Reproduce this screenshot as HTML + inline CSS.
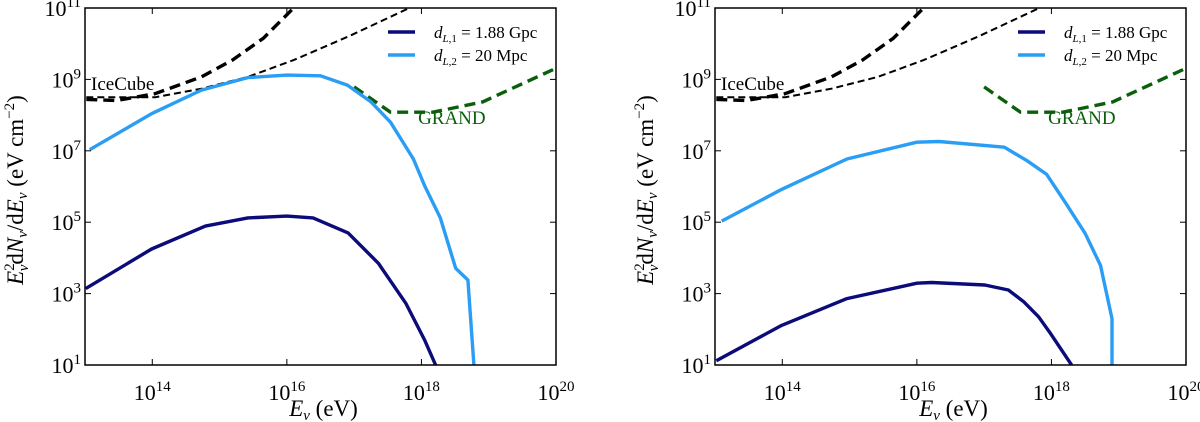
<!DOCTYPE html>
<html><head><meta charset="utf-8"><style>
body{margin:0;background:#fff}
svg{display:block}
text{font-family:"Liberation Serif",serif;fill:#000}
</style></head><body>
<svg id="fig" width="1200" height="422" xmlns="http://www.w3.org/2000/svg"></svg>
<script>
// log10 of energy (eV) and log10 of flux
const xTicks = [14, 16, 18, 20];
const yTicks = [1, 3, 5, 7, 9, 11];
const iceThickX = [13.02, 13.47, 14.04, 14.73, 15.19, 15.65, 16.1];
const iceThickY = [8.44, 8.41, 8.6, 9.07, 9.54, 10.15, 11];
const iceThinX = [13.02, 14.04, 14.73, 15.42, 16.1, 16.91, 17.82];
const iceThinY = [8.5, 8.5, 8.74, 9.07, 9.54, 10.2, 11];
const grandX = [17.0, 17.54, 18.17, 18.91, 20.0];
const grandY = [8.79, 8.08, 8.08, 8.37, 9.31];
const leftLightX = [13.07, 13.99, 14.73, 15.42, 16.0, 16.5, 16.9, 17.25, 17.54, 17.88, 18.05, 18.28, 18.51, 18.69, 18.78];
const leftLightY = [7.03, 8.04, 8.7, 9.05, 9.12, 9.1, 8.84, 8.37, 7.8, 6.77, 6.01, 5.12, 3.71, 3.38, 1];
const leftDarkX = [13.01, 13.99, 14.79, 15.42, 16.0, 16.39, 16.91, 17.36, 17.77, 18.05, 18.21];
const leftDarkY = [3.14, 4.25, 4.89, 5.12, 5.17, 5.12, 4.7, 3.85, 2.72, 1.69, 1];
const rightLightX = [13.1, 13.99, 14.96, 16.0, 16.33, 17.3, 17.64, 17.93, 18.21, 18.5, 18.73, 18.9, 18.9];
const rightLightY = [5.03, 5.92, 6.77, 7.24, 7.26, 7.1, 6.72, 6.34, 5.54, 4.69, 3.79, 2.3, 1];
const rightDarkX = [13.02, 13.99, 14.96, 16.0, 16.22, 17.01, 17.36, 17.59, 17.81, 17.99, 18.3];
const rightDarkY = [1.12, 2.11, 2.86, 3.29, 3.31, 3.24, 3.1, 2.77, 2.35, 1.87, 1];

const NS = "http://www.w3.org/2000/svg";
const svg = document.getElementById('fig');
function mk(tag, attrs, parent){const e=document.createElementNS(NS,tag);for(const k in attrs)e.setAttribute(k,attrs[k]);(parent||svg).appendChild(e);return e;}

function panel(name, L, R, lightX, lightY, darkX, darkY){
  const T=8, B=365;
  const g = mk('g',{});
  
  
  const sx = v => L + (v-13)/7*(R-L);
  const sy = v => B - (v-1)/10*(B-T);
  const clip = name+'-clip';
  const cp = mk('clipPath',{id:clip},g); mk('rect',{x:L,y:T,width:R-L,height:B-T},cp);
  function line(xs, ys, color, w, dash, nm){
    const d = xs.map((x,i)=>(i?'L':'M')+sx(x).toFixed(1)+','+sy(ys[i]).toFixed(1)).join('');
    const p = mk('path',{d:d,fill:'none',stroke:color,'stroke-width':w,'stroke-dasharray':dash||'none','clip-path':'url(#'+clip+')','stroke-linejoin':'round'},g);
    
    
  }
  line(iceThickX, iceThickY, '#000', 3.4, '11,6', 'icecube-thick-curve');
  line(iceThinX, iceThinY, '#000', 2, '7,4', 'icecube-thin-curve');
  line(grandX, grandY, '#0b5e0b', 3.4, '11,6', 'grand-curve');
  line(lightX, lightY, '#2a9df4', 3.4, null, 'light-blue-curve');
  line(darkX, darkY, '#0b0b7a', 3.4, null, 'dark-blue-curve');
  const f = mk('rect',{x:L,y:T,width:R-L,height:B-T,fill:'none',stroke:'#000','stroke-width':1.5},g);
  
  
  xTicks.forEach(v=>{
    const x=sx(v);
    mk('line',{x1:x,x2:x,y1:B,y2:B-6,stroke:'#000','stroke-width':1},g);
    mk('line',{x1:x,x2:x,y1:T,y2:T+6,stroke:'#000','stroke-width':1},g);
    const t=mk('text',{x:x,y:B+35,'text-anchor':'middle','font-size':22},g);
    
    
    t.innerHTML='10<tspan dy="-9" font-size="15">'+v+'</tspan>';
  });
  yTicks.forEach(v=>{
    const y=sy(v);
    mk('line',{x1:L,x2:L+6,y1:y,y2:y,stroke:'#000','stroke-width':1},g);
    mk('line',{x1:R,x2:R-6,y1:y,y2:y,stroke:'#000','stroke-width':1},g);
    const t=mk('text',{x:L-4,y:y+8,'text-anchor':'end','font-size':22},g);
    
    
    t.innerHTML='10<tspan dy="-9" font-size="15">'+v+'</tspan>';
  });
  const xl=mk('text',{x:(L+R)/2+3,y:416,'text-anchor':'middle','font-size':23},g);
  
  
  xl.innerHTML='<tspan font-style="italic">E</tspan><tspan font-style="italic" font-size="15" dy="4">ν</tspan><tspan dy="-4"> (eV)</tspan>';
  const yl=mk('text',{x:0,y:0,'text-anchor':'middle','font-size':23,transform:'translate('+(L-62)+',190) rotate(-90)'},g);
  
  
  yl.innerHTML='<tspan font-style="italic">E</tspan><tspan font-size="15" dy="-9">2</tspan><tspan font-size="15" font-style="italic" dx="-8" dy="14">ν</tspan><tspan dy="-5">d</tspan><tspan font-style="italic">N</tspan><tspan font-style="italic" font-size="15" dy="4">ν</tspan><tspan dy="-4">/d</tspan><tspan font-style="italic">E</tspan><tspan font-style="italic" font-size="15" dy="4">ν</tspan><tspan dy="-4"> (eV cm</tspan><tspan font-size="15" dy="-9">−2</tspan><tspan dy="9">)</tspan>';
  const ic=mk('text',{x:L+6,y:90,'font-size':19},g);
    ic.textContent='IceCube';
  const gr=mk('text',{x:sx(17.95),y:124,'font-size':19},g);
    gr.setAttribute('style','fill:#0b5e0b'); gr.textContent='GRAND';
  const lx=L+303;
  [['#0b0b7a','1','1.88 Gpc',32],['#2a9df4','2','20 Mpc',55]].forEach(a=>{
    const lg=mk('g',{},g);
    
    
    mk('line',{x1:lx,x2:lx+27,y1:a[3],y2:a[3],stroke:a[0],'stroke-width':3.5},lg);
    const t=mk('text',{x:lx+46,y:a[3]+6,'font-size':17},lg);
    t.innerHTML='<tspan font-style="italic">d</tspan><tspan font-size="11" font-style="italic" dy="4">L</tspan><tspan font-size="11">,'+a[1]+'</tspan><tspan dy="-4"> = '+a[2]+'</tspan>';
  });
}
panel('left-panel', 85, 556, leftLightX, leftLightY, leftDarkX, leftDarkY);
panel('right-panel', 715, 1186, rightLightX, rightLightY, rightDarkX, rightDarkY);
</script>
</body></html>
